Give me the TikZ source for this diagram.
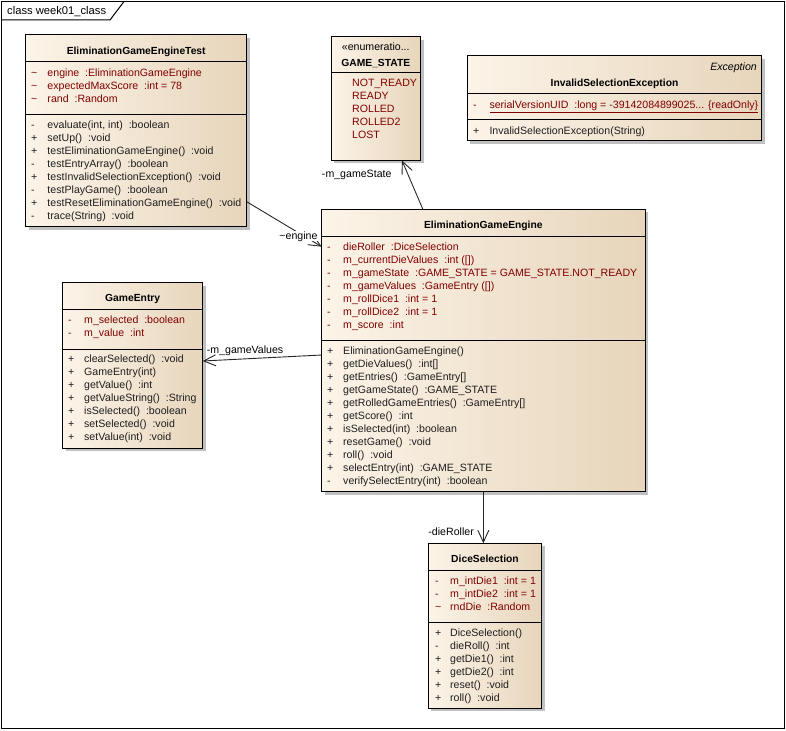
\documentclass[tikz,border=0pt]{standalone}
\usepackage{fontspec}
\setmainfont{Liberation Sans}
\usetikzlibrary{arrows.meta,calc}
\definecolor{attrc}{RGB}{128,0,0}
\definecolor{opc}{RGB}{30,30,30}
\definecolor{boxl}{RGB}{252,244,232}
\definecolor{boxr}{RGB}{231,213,187}
\definecolor{shadowc}{RGB}{192,192,192}
\newcommand\umlbox[5]{%
  \fill[shadowc] (#2+3,#3+3) rectangle (#4+3,#5+3);
  \node[classbox, minimum width={(#4-#2)*1pt}, minimum height={(#5-#3)*1pt}] (#1) at ({(#2+#4)/2},{(#3+#5)/2}) {};
}
\newcommand\comptab[2]{\begin{tabular}{@{}p{#1}@{}l@{}}#2\end{tabular}}
\newcommand\tl{\textasciitilde}
\newcommand\rowfont{\fontsize{10.6}{13}\selectfont}
\tikzset{
  x=1pt, y=-1pt,
  classbox/.style={draw=black, line width=1pt, left color=boxl, right color=boxr, inner sep=0pt, outer sep=0pt},
  divider/.style={draw=black, line width=1pt},
  title/.style={font=\fontsize{10.3}{13}\selectfont\bfseries, inner sep=0pt, text height=7.4pt, text depth=0pt, anchor=center},
  stereo/.style={font=\rowfont, inner sep=0pt, text height=7.6pt, text depth=0pt},
  attrs/.style={font=\rowfont, inner sep=0pt, anchor=north west, align=left, text=attrc},
  ops/.style={font=\rowfont, inner sep=0pt, anchor=north west, align=left, text=opc},
  assoc/.style={draw=black!85, line width=0.9pt, -{Straight Barb[length=12pt,width=11pt]}},
  role/.style={font=\rowfont, inner sep=1pt, text height=7.6pt, text depth=0pt},
}
\begin{document}
\begin{tikzpicture}
\useasboundingbox (0,0) rectangle (786,730);
% frame
\draw[line width=1.3pt] (1.5,1.5) rectangle (784.5,728.5);
\draw[line width=1pt] (1.5,20) -- (110,20) -- (124,1.5);
\node[stereo, anchor=west, font=\fontsize{11.2}{13}\selectfont] (frametitle) at (7,11) {class week01\_class};

% EliminationGameEngineTest
\umlbox{test}{25.7}{35}{246.7}{226.7}
\draw[divider] (test.west |- 0,61.7) -- (test.east |- 0,61.7);
\draw[divider] (test.west |- 0,114.3) -- (test.east |- 0,114.3);
\node[title] (testtitle) at (test.center |- 0,51) {EliminationGameEngineTest};
\node[attrs] (testattr) at (31,67.1) {\comptab{16.3pt}{%
\tl & engine~~:EliminationGameEngine\\
\tl & expectedMaxScore~~:int = 78\\
\tl & rand~~:Random}};
\node[ops] (testops) at (31,119.4) {\comptab{16.3pt}{%
- & evaluate(int, int)~~:boolean\\
+ & setUp()~~:void\\
+ & testEliminationGameEngine()~~:void\\
- & testEntryArray()~~:boolean\\
+ & testInvalidSelectionException()~~:void\\
- & testPlayGame()~~:boolean\\
+ & testResetEliminationGameEngine()~~:void\\
- & trace(String)~~:void}};

% GAME_STATE
\umlbox{gs}{331}{37}{420.5}{160.5}
\draw[divider] (gs.west |- 0,73) -- (gs.east |- 0,73);
\node[stereo] (gsstereo) at (gs.center |- 0,46.7) {«enumeratio...};
\node[title] (gstitle) at (gs.center |- 0,63) {GAME\_STATE};
\node[attrs] (gsvals) at (352,77.7) {\begin{tabular}{@{}l@{}}NOT\_READY\\ READY\\ ROLLED\\ ROLLED2\\ LOST\end{tabular}};

% InvalidSelectionException
\umlbox{ise}{467.3}{55.7}{761.7}{140.7}
\draw[divider] (ise.west |- 0,94) -- (ise.east |- 0,94);
\draw[divider] (ise.west |- 0,120) -- (ise.east |- 0,120);
\node[stereo, anchor=east, font=\rowfont\itshape] (iseparent) at (757,67) {Exception};
\node[title] (isetitle) at (ise.center |- 0,83) {InvalidSelectionException};
\node[attrs] (iseattr) at (473,99.4) {\comptab{16.3pt}{%
- & \underline{serialVersionUID~~:long = -39142084899025... \{readOnly\}}}};
\node[ops] (iseops) at (473,125.4) {\comptab{16.3pt}{%
+ & InvalidSelectionException(String)}};

% GameEntry
\umlbox{ge}{62.7}{282.5}{202.7}{448}
\draw[divider] (ge.west |- 0,309) -- (ge.east |- 0,309);
\draw[divider] (ge.west |- 0,349) -- (ge.east |- 0,349);
\node[title] (getitle) at (ge.center |- 0,298) {GameEntry};
\node[attrs] (geattr) at (68,314.4) {\comptab{16pt}{%
- & m\_selected~~:boolean\\
- & m\_value~~:int}};
\node[ops] (geops) at (68,353.4) {\comptab{16pt}{%
+ & clearSelected()~~:void\\
+ & GameEntry(int)\\
+ & getValue()~~:int\\
+ & getValueString()~~:String\\
+ & isSelected()~~:boolean\\
+ & setSelected()~~:void\\
+ & setValue(int)~~:void}};

% EliminationGameEngine
\umlbox{engine}{321.7}{209}{645}{491.7}
\draw[divider] (engine.west |- 0,236) -- (engine.east |- 0,236);
\draw[divider] (engine.west |- 0,340) -- (engine.east |- 0,340);
\node[title] (enginetitle) at (engine.center |- 0,225) {EliminationGameEngine};
\node[attrs] (engineattr) at (327,241.1) {\comptab{16pt}{%
- & dieRoller~~:DiceSelection\\
- & m\_currentDieValues~~:int ([])\\
- & m\_gameState~~:GAME\_STATE = GAME\_STATE.NOT\_READY\\
- & m\_gameValues~~:GameEntry ([])\\
- & m\_rollDice1~~:int = 1\\
- & m\_rollDice2~~:int = 1\\
- & m\_score~~:int}};
\node[ops] (engineops) at (327,345.4) {\comptab{16pt}{%
+ & EliminationGameEngine()\\
+ & getDieValues()~~:int[]\\
+ & getEntries()~~:GameEntry[]\\
+ & getGameState()~~:GAME\_STATE\\
+ & getRolledGameEntries()~~:GameEntry[]\\
+ & getScore()~~:int\\
+ & isSelected(int)~~:boolean\\
+ & resetGame()~~:void\\
+ & roll()~~:void\\
+ & selectEntry(int)~~:GAME\_STATE\\
- & verifySelectEntry(int)~~:boolean}};

% DiceSelection
\umlbox{dice}{428.3}{543.3}{541.7}{708}
\draw[divider] (dice.west |- 0,570) -- (dice.east |- 0,570);
\draw[divider] (dice.west |- 0,622) -- (dice.east |- 0,622);
\node[title] (dicetitle) at (dice.center |- 0,559) {DiceSelection};
\node[attrs] (diceattr) at (435,575.1) {\comptab{15pt}{%
- & m\_intDie1~~:int = 1\\
- & m\_intDie2~~:int = 1\\
\tl & rndDie~~:Random}};
\node[ops] (diceops) at (435,627.4) {\comptab{15pt}{%
+ & DiceSelection()\\
- & dieRoll()~~:int\\
+ & getDie1()~~:int\\
+ & getDie2()~~:int\\
+ & reset()~~:void\\
+ & roll()~~:void}};

% associations
\draw[assoc] ($(test.east)+(0,70.85)$) -- ($(engine.west)+(0,-103.65)$);
\node[role, fill=white] (lengine) at (298.5,236) {\textasciitilde engine};
\draw[assoc] ($(engine.north)+(-60.6,0)$) -- ($(gs.south)+(26.2,0)$);
\node[role, anchor=east] (lgs) at (392.7,173.3) {-m\_gameState};
\draw[assoc] ($(engine.west)+(0,4.65)$) -- ($(ge.east)+(0,-4.25)$);
\node[role, anchor=west] (lge) at (205.7,350) {-m\_gameValues};
\draw[assoc] (engine.south) -- (engine.south |- dice.north);
\node[role, anchor=east] (ldice) at (475,532) {-dieRoller};
\end{tikzpicture}
\end{document}
